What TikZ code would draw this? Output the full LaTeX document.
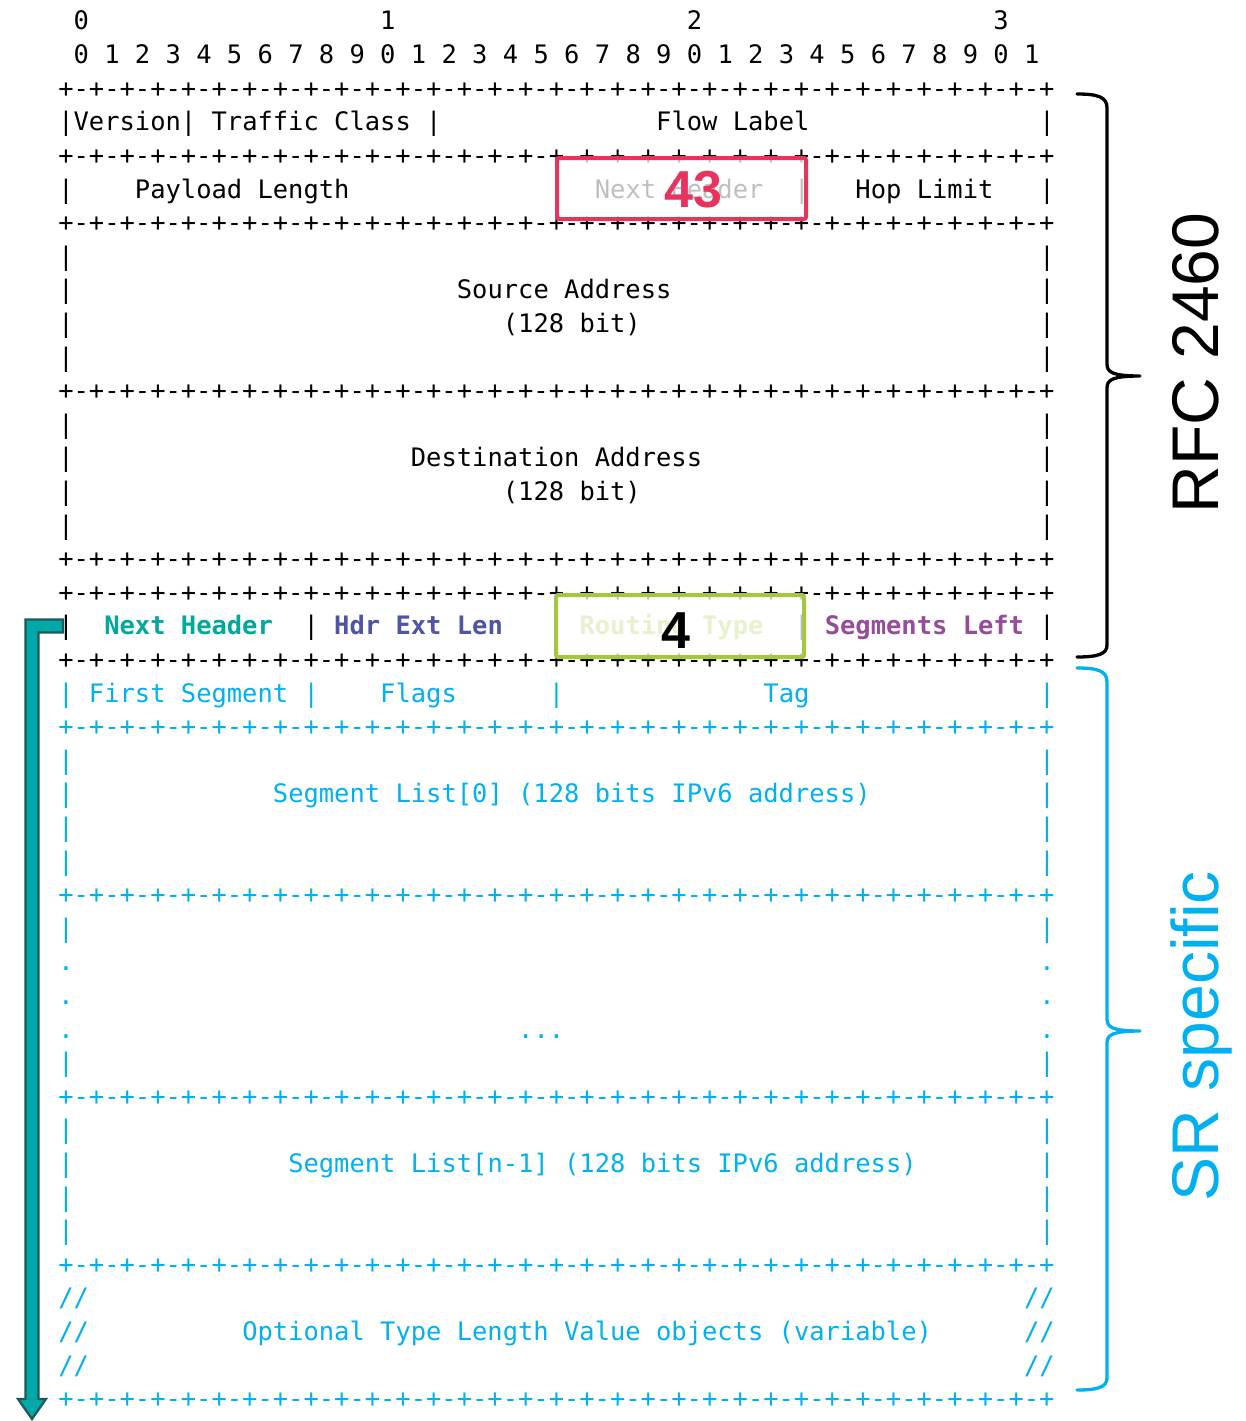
\documentclass[tikz,border=0pt]{standalone}
\usepackage{fontspec}
\newfontfamily\monof{DejaVu Sans Mono}
\newfontfamily\arialf{Liberation Sans}
\definecolor{redc}{HTML}{E8335F}
\definecolor{greenc}{HTML}{A3C83D}
\definecolor{tealc}{HTML}{00A99D}
\definecolor{hdrc}{HTML}{4F55A4}
\definecolor{purpc}{HTML}{974B9B}
\definecolor{srcyan}{HTML}{00B0F0}
\definecolor{tealA}{HTML}{00A8A8}
\definecolor{tealD}{HTML}{1F5A5A}
\tikzset{
  asc/.style={anchor=base west, inner sep=0pt, outer sep=0pt,
    font=\monof\fontsize{25.46}{30}\selectfont, text=black},
  bfa/.style={font=\monof\bfseries\fontsize{25.46}{30}\selectfont},
  sr/.style={text=srcyan},
  hlbox/.style={line width=4pt, fill=white, fill opacity=0.75, rounded corners=2pt},
  bignum/.style={font=\arialf\bfseries\fontsize{52}{52}\selectfont, inner sep=0pt},
  sidelabel/.style={font=\arialf\fontsize{66}{66}\selectfont, rotate=90, anchor=base, inner sep=0pt},
  bracestyle/.style={line width=3.3pt, line cap=round, line join=round}
}
\def\oct{+-+-+-+-+-+-+-+-}
\def\rul{\oct\oct\oct\oct+}
\newcommand\At[5][]{\node[asc,#1] (#2) at ({58.3+15.33*(#3)},{30+33.6*(#4)}) {#5};}
\newcommand\Rule[3][]{\node[asc,#1] (#2) at (58.3,{30+33.6*(#3)}) {\rul};}
\begin{document}
\begin{tikzpicture}[x=1pt,y=-1pt]
\useasboundingbox (0,0) rectangle (1245,1421);
% header digits
\At{h0}{1}{0}{0}\At{h1}{21}{0}{1}\At{h2}{41}{0}{2}\At{h3}{61}{0}{3}
\foreach \i in {0,...,31}{\pgfmathtruncatemacro\dg{mod(\i,10)}\pgfmathtruncatemacro\cc{2*\i+1}\At{d\i}{\cc}{1}{\dg}}
% rules
\foreach \l in {2,4,6,11,16,17,19}{\Rule{r\l}{\l}}
\foreach \l in {21,26,32,37,41}{\Rule[sr]{r\l}{\l}}
% side bars black
\foreach \l in {7,8,9,10,12,13,14,15}{\At{lb\l}{0}{\l}{|}\At{rb\l}{64}{\l}{|}}
% side bars cyan
\foreach \l in {22,23,24,25,27,31,33,34,35,36}{\At[sr]{lc\l}{0}{\l}{|}\At[sr]{rc\l}{64}{\l}{|}}
\foreach \l in {28,29,30}{\At[sr]{ld\l}{0}{\l}{.}\At[sr]{rd\l}{64}{\l}{.}}
\foreach \l in {38,39,40}{\At[sr]{ls\l}{0}{\l}{//}\At[sr]{rs\l}{63}{\l}{//}}
% line 3
\At{v0}{0}{3}{|Version|}\At{tc}{10}{3}{Traffic Class}\At{v24}{24}{3}{|}\At{fl}{39}{3}{Flow Label}\At{v64}{64}{3}{|}
% line 5
\At{p0}{0}{5}{|}\At{pl}{5}{5}{Payload Length}\At{p32}{32}{5}{|}\At{nh}{35}{5}{Next Header}\At{p48}{48}{5}{|}\At{hl}{52}{5}{Hop Limit}\At{p64}{64}{5}{|}
% addresses
\At{sa}{26}{8}{Source Address}\At{sab}{29}{9}{(128 bit)}
\At{da}{23}{13}{Destination Address}\At{dab}{29}{14}{(128 bit)}
% line 18
\At{q0}{0}{18}{|}\At[bfa,text=tealc]{snh}{3}{18}{Next Header}\At{q16}{16}{18}{|}
\At[bfa,text=hdrc]{hel}{18}{18}{Hdr Ext Len}\At{q32}{32}{18}{|}
\At[bfa,text=greenc]{rt}{34}{18}{Routing Type}\At{q48}{48}{18}{|}
\At[bfa,text=purpc]{sgl}{50}{18}{Segments Left}\At{q64}{64}{18}{|}
% line 20
\At[sr]{c0}{0}{20}{|}\At[sr]{fs}{2}{20}{First Segment}\At[sr]{c16}{16}{20}{|}\At[sr]{fg}{21}{20}{Flags}\At[sr]{c32}{32}{20}{|}\At[sr]{tg}{46}{20}{Tag}\At[sr]{c64}{64}{20}{|}
% segment lists
\At[sr]{sl0}{14}{23}{Segment List[0] (128 bits IPv6 address)}
\At[sr]{ell}{30}{30}{...}
\At[sr]{sln}{15}{34}{Segment List[n-1] (128 bits IPv6 address)}
\At[sr]{tlv}{12}{39}{Optional Type Length Value objects (variable)}
% highlight boxes
\draw[hlbox, draw=redc] (557,158) rectangle (806,219);
\draw[hlbox, draw=greenc] (556,595) rectangle (804,657);
\node[bignum, text=redc] (n43) at (693.5,190) {43};
\node[bignum, text=black] (n4) at (676,631) {4};
% teal arrow
\coordinate (arrTop) at (63,626);
\coordinate (arrTip) at (32,1419);
\filldraw[fill=tealA, draw=tealD, line width=2.2pt, line join=miter]
  (63,619.5) -- (25.5,619.5) -- (25.5,1399) -- (18,1399) -- (arrTip) -- (46,1399) -- (38.5,1399) -- (38.5,632.5) -- (63,632.5) -- cycle;
% braces
\draw[bracestyle] (1077,94) .. controls (1098,94) and (1107,97) .. (1107,108) -- (1107,364)
  .. controls (1107,372) and (1112,376) .. (1140,376)
  .. controls (1112,376) and (1107,380) .. (1107,388) -- (1107,645)
  .. controls (1107,654) and (1098,657) .. (1077,657);
\draw[bracestyle, srcyan] (1077,668) .. controls (1098,668) and (1107,671) .. (1107,682) -- (1107,1019)
  .. controls (1107,1027) and (1112,1031) .. (1140,1031)
  .. controls (1112,1031) and (1107,1035) .. (1107,1043) -- (1107,1378)
  .. controls (1107,1387) and (1098,1390) .. (1077,1390);
\node[sidelabel] (rfc) at (1218,363) {RFC 2460};
\node[sidelabel, text=srcyan] (srs) at (1218,1036) {SR specific};
\end{tikzpicture}
\end{document}
